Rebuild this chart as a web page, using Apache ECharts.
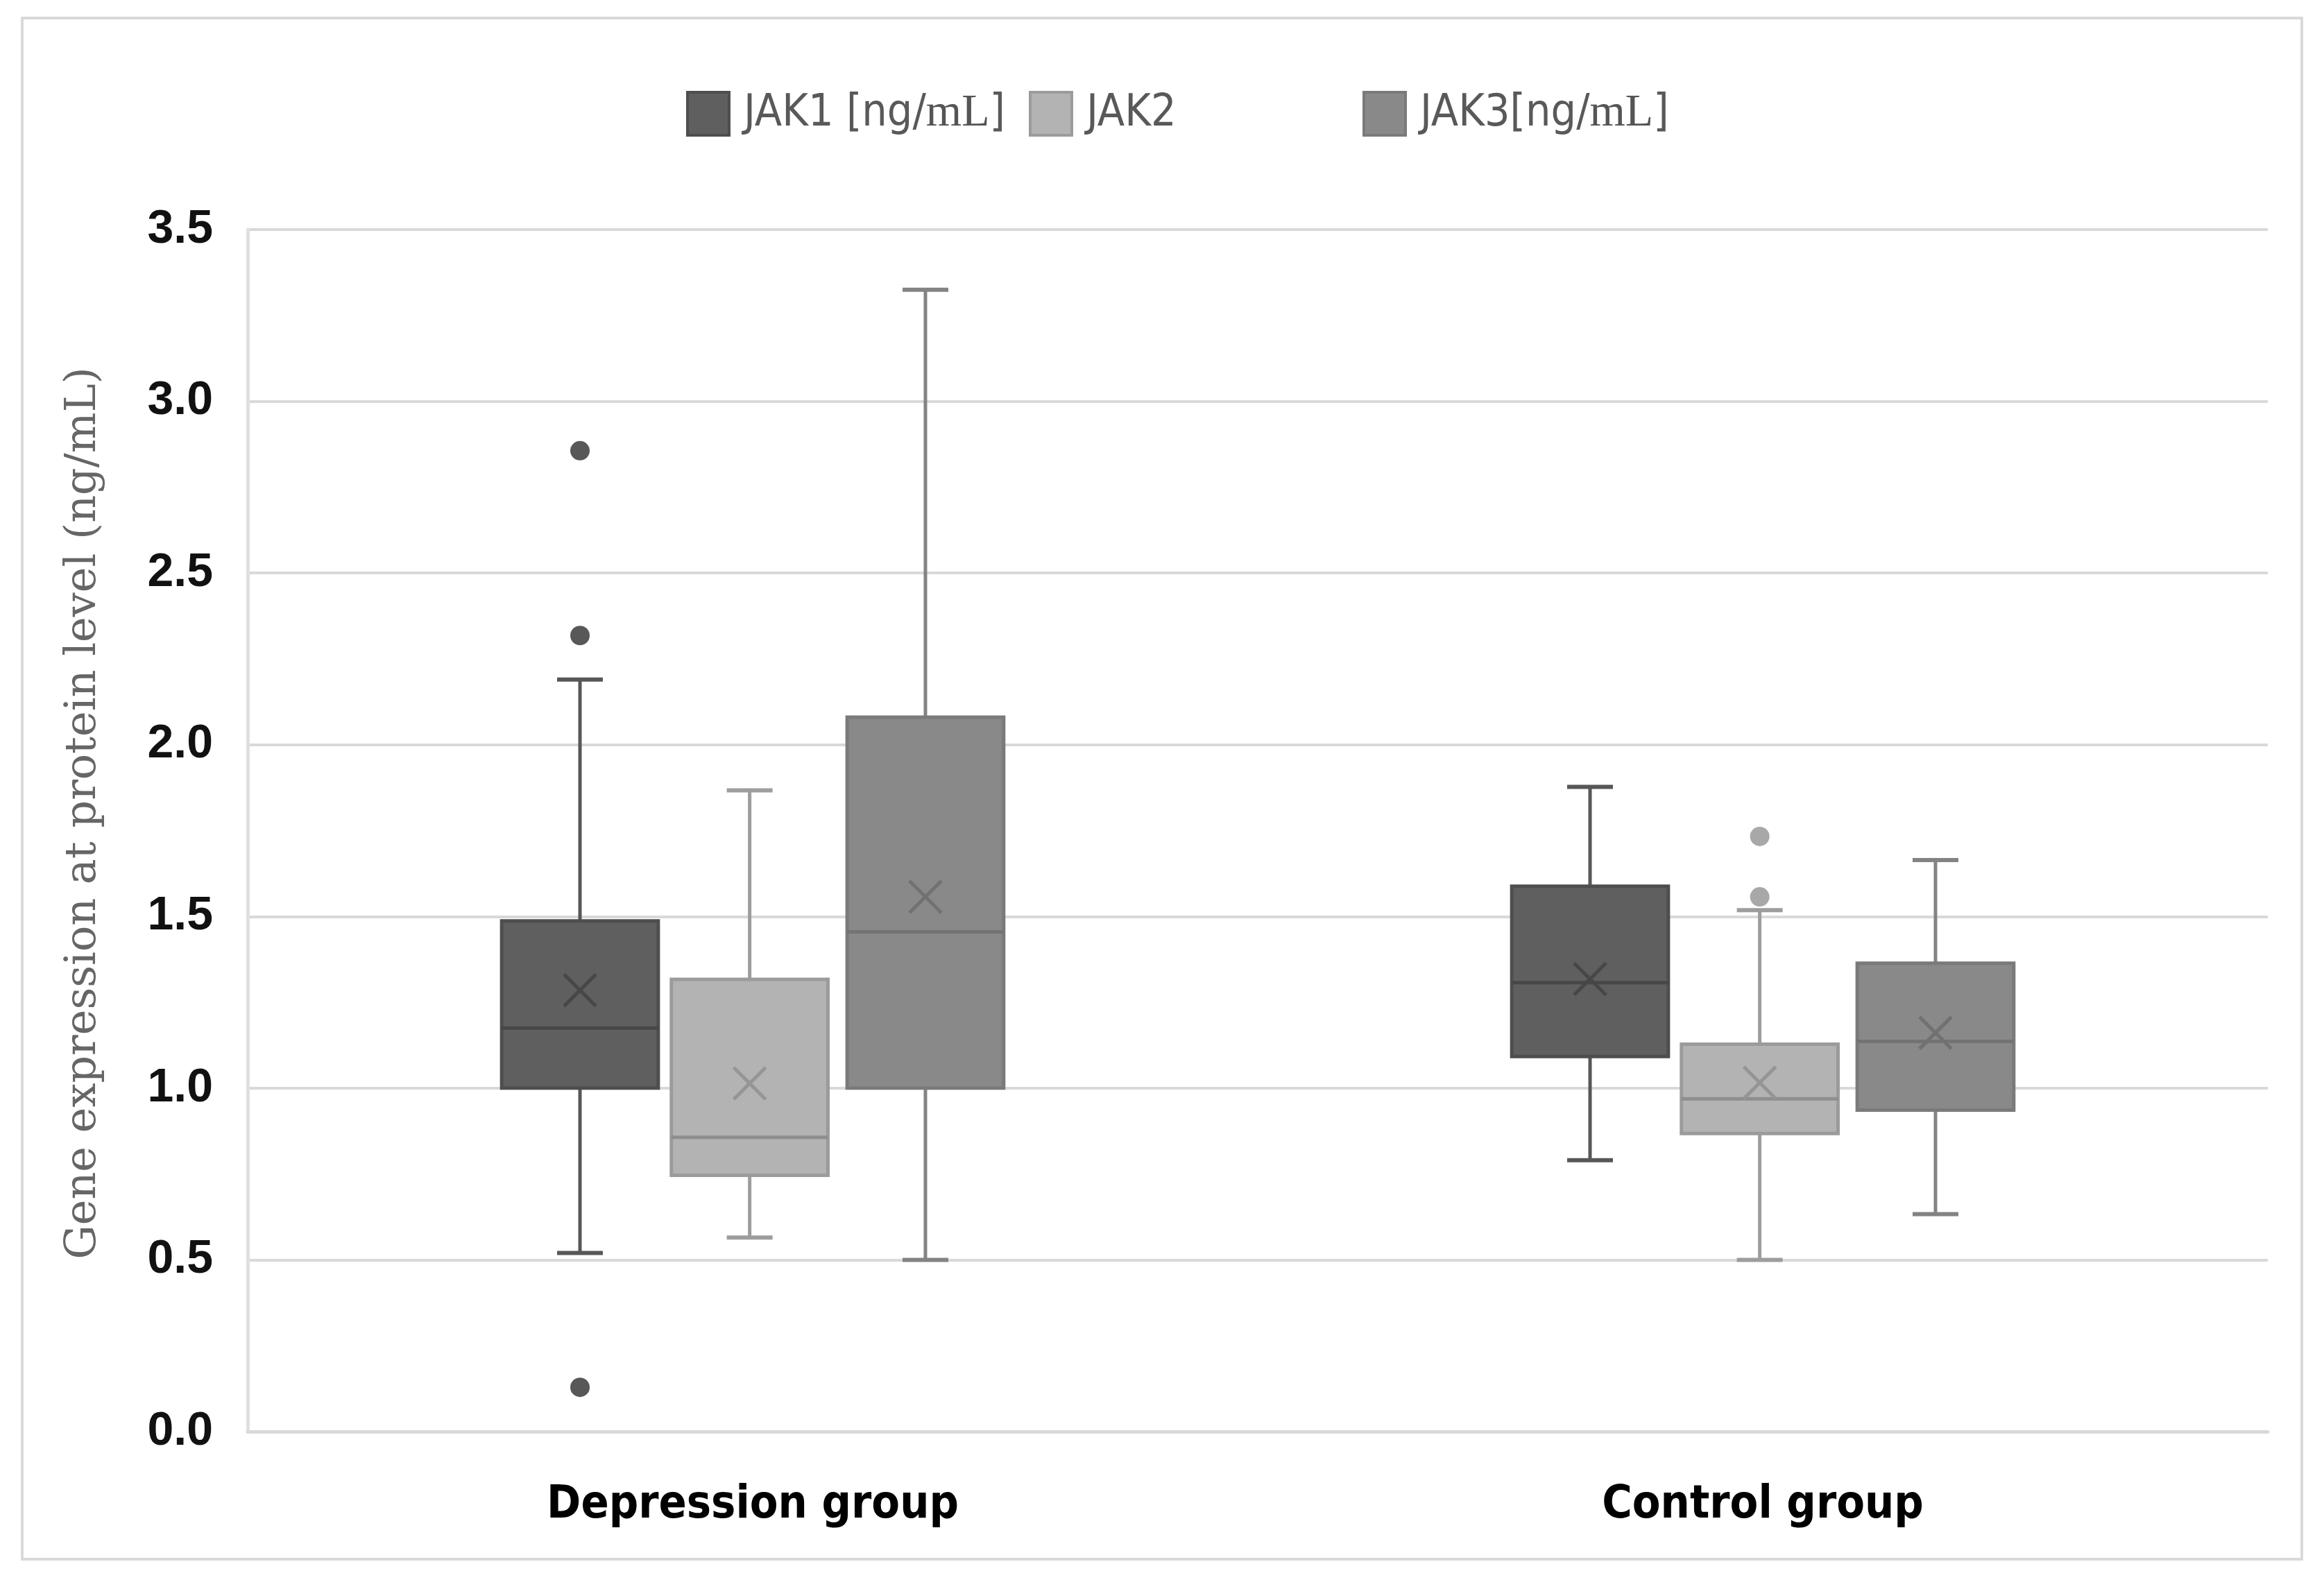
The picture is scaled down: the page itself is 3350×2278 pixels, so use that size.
<!DOCTYPE html>
<html>
<head>
<meta charset="utf-8">
<script src="https://cdn.jsdelivr.net/npm/echarts@6/dist/echarts.min.js"></script>
<style>
  html, body { margin: 0; padding: 0; background: #fff; }
  #jak { width: 3350px; height: 2278px; }
</style>
</head>
<body>
<div id="jak"></div>
<script>
const groups = ['Depression group', 'Control group'];
const seriesNames = ['JAK1 [ng/mL]', 'JAK2', 'JAK3[ng/mL]'];
const yTicks = [0, 0.5, 1.0, 1.5, 2.0, 2.5, 3.0, 3.5];

// [min, Q1, median, Q3, max] for each group
const jak1Box = [[0.52, 1.00, 1.175, 1.487, 2.19], [0.79, 1.092, 1.307, 1.588, 1.877]];
const jak2Box = [[0.565, 0.746, 0.857, 1.317, 1.867], [0.50, 0.868, 0.969, 1.128, 1.518]];
const jak3Box = [[0.50, 1.00, 1.455, 2.08, 3.325], [0.633, 0.936, 1.136, 1.364, 1.664]];

// means (the x marks)
const jak1Mean = [1.285, 1.318];
const jak2Mean = [1.014, 1.016];
const jak3Mean = [1.557, 1.161];

// outliers: [group index, value]
const jak1Outliers = [[0, 2.856], [0, 2.318], [0, 0.129]];
const jak2Outliers = [[1, 1.733], [1, 1.557]];
const jak3Outliers = [];

const looks = [
    { offset: -0.171, fill: '#5f5f5f', border: '#4e4e4e', whisker: '#575757', median: '#474747', mean: '#474747', dot: '#585858' },
    { offset: -0.003, fill: '#b3b3b3', border: '#9b9b9b', whisker: '#9d9d9d', median: '#8e8e8e', mean: '#959595', dot: '#a8a8a8' },
    { offset: 0.171, fill: '#898989', border: '#7a7a7a', whisker: '#838383', median: '#737373', mean: '#717171', dot: '#848484' }
];

let chartJak = echarts.init(document.getElementById('jak'));

function boxRows(box, mean) {
    return box.map((b, i) => [i].concat(b, [mean[i]]));
}

function boxItem(look) {
    return function (params, api) {
        const cat = api.value(0);
        const band = api.size([1, 0])[0];
        const cx = api.coord([cat, 0])[0] + band * look.offset;
        const half = band * 0.155 / 2;
        const cap = 33;
        const y = i => api.coord([cat, api.value(i)])[1];
        const yMin = y(1), yQ1 = y(2), yMed = y(3), yQ3 = y(4), yMax = y(5), yMean = y(6);
        const ws = { stroke: look.whisker, lineWidth: 5 };
        const cs = { stroke: look.whisker, lineWidth: 6 };
        const m = 23;
        const ms = { stroke: look.mean, lineWidth: 5 };
        return {
            type: 'group',
            children: [
                { type: 'line', shape: { x1: cx, y1: yMax, x2: cx, y2: yQ3 }, style: ws },
                { type: 'line', shape: { x1: cx, y1: yQ1, x2: cx, y2: yMin }, style: ws },
                { type: 'line', shape: { x1: cx - cap, y1: yMax, x2: cx + cap, y2: yMax }, style: cs },
                { type: 'line', shape: { x1: cx - cap, y1: yMin, x2: cx + cap, y2: yMin }, style: cs },
                { type: 'rect', shape: { x: cx - half, y: yQ3, width: half * 2, height: yQ1 - yQ3 },
                  style: { fill: look.fill, stroke: look.border, lineWidth: 5 } },
                { type: 'line', shape: { x1: cx - half, y1: yMed, x2: cx + half, y2: yMed },
                  style: { stroke: look.median, lineWidth: 5 } },
                { type: 'line', shape: { x1: cx - m, y1: yMean - m, x2: cx + m, y2: yMean + m }, style: ms },
                { type: 'line', shape: { x1: cx - m, y1: yMean + m, x2: cx + m, y2: yMean - m }, style: ms }
            ]
        };
    };
}

function dotItem(look) {
    return function (params, api) {
        const cat = api.value(0);
        const band = api.size([1, 0])[0];
        const pt = api.coord([cat, api.value(1)]);
        return {
            type: 'circle',
            shape: { cx: pt[0] + band * look.offset, cy: pt[1], r: 14 },
            style: { fill: look.dot }
        };
    };
}

const boxes = [boxRows(jak1Box, jak1Mean), boxRows(jak2Box, jak2Mean), boxRows(jak3Box, jak3Mean)];
const outliers = [jak1Outliers, jak2Outliers, jak3Outliers];

const series = [];
seriesNames.forEach((name, i) => {
    series.push({
        name: name,
        type: 'custom',
        renderItem: boxItem(looks[i]),
        encode: { x: 0, y: [1, 2, 3, 4, 5, 6] },
        itemStyle: { color: looks[i].fill },
        data: boxes[i],
        z: 3
    });
    series.push({
        name: name,
        type: 'custom',
        renderItem: dotItem(looks[i]),
        encode: { x: 0, y: 1 },
        itemStyle: { color: looks[i].fill },
        data: outliers[i],
        z: 4
    });
});

const narrow = "'Liberation Sans Narrow', 'DejaVu Sans Condensed', 'Roboto', sans-serif";
const legendLeft = [984, 1478, 1959];
const legendText = {
    color: '#595959',
    fontSize: 64,
    fontFamily: narrow,
    padding: [0, 0, 0, 16],
    rich: {
        s: { color: '#595959', fontSize: 64, fontFamily: narrow },
        m: { color: '#555555', fontSize: 66, fontFamily: "'Liberation Serif', serif" }
    }
};

const option = {
    backgroundColor: '#ffffff',
    animation: false,
    legend: seriesNames.map((name, i) => ({
        left: legendLeft[i],
        top: 126,
        itemWidth: 60,
        itemHeight: 62,
        selectedMode: false,
        textStyle: legendText,
        formatter: n => n.indexOf('mL') >= 0
            ? '{s|' + n.replace('mL]', '') + '}{m|mL}{s|]}'
            : '{s|' + n + '}',
        data: [{
            name: name,
            icon: 'rect',
            itemStyle: { color: looks[i].fill, borderColor: looks[i].border, borderWidth: 4 }
        }]
    })),
    grid: {
        left: 357,
        right: 81,
        top: 331,
        bottom: 214
    },
    xAxis: {
        type: 'category',
        data: groups,
        axisTick: { show: false },
        axisLine: { lineStyle: { color: '#d9d9d9', width: 5 } },
        axisLabel: {
            color: '#000000',
            fontSize: 66,
            fontWeight: 'bold',
            fontFamily: narrow,
            margin: 74
        }
    },
    yAxis: {
        type: 'value',
        min: yTicks[0],
        max: yTicks[yTicks.length - 1],
        interval: 0.5,
        name: 'Gene expression at protein level (ng/mL)',
        nameLocation: 'middle',
        nameGap: 205,
        nameTextStyle: {
            color: '#666666',
            fontSize: 62,
            fontFamily: "'DejaVu Serif', 'Liberation Serif', serif",
            padding: [0, 0, 0, 50]
        },
        axisLine: { show: true, lineStyle: { color: '#e0e0e0', width: 5 } },
        axisTick: { show: false },
        splitLine: { lineStyle: { color: '#d9d9d9', width: 4 } },
        axisLabel: {
            color: '#111111',
            fontSize: 68,
            fontWeight: 'bold',
            fontFamily: "'Liberation Sans', 'Roboto', sans-serif",
            margin: 50,
            formatter: v => v.toFixed(1)
        }
    },
    graphic: [{
        type: 'rect',
        shape: { x: 32, y: 26, width: 3286, height: 2222 },
        style: { fill: 'none', stroke: '#d9d9d9', lineWidth: 4 },
        z: -1
    }],
    series: series
};

option && chartJak.setOption(option);
window.addEventListener('resize', chartJak.resize);
</script>
</body>
</html>
